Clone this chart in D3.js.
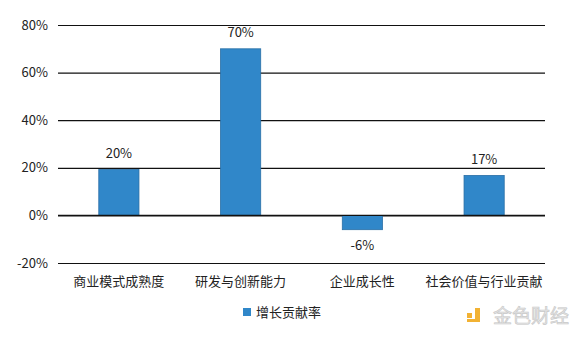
<!DOCTYPE html>
<html>
<head>
<meta charset="utf-8">
<script src="https://cdn.jsdelivr.net/npm/d3@7"></script>
<style>
  body { margin: 0; background: #fff; }
  text { font-family: "Noto Sans CJK SC", "Noto Sans", sans-serif; }
</style>
</head>
<body>
<div id="chart"></div>
<script>
var categories = ["商业模式成熟度", "研发与创新能力", "企业成长性", "社会价值与行业贡献"];
var values = [19.3, 70, -6, 16.8];
var labels = ["20%", "70%", "-6%", "17%"];
var yTicks = [-20, 0, 20, 40, 60, 80];
var seriesName = "增长贡献率";

var W = 580, H = 337;
var margin = {top: 25, right: 35, bottom: 74, left: 58},
    width = W - margin.left - margin.right,
    height = H - margin.top - margin.bottom;

var svg = d3.select("#chart")
  .append("svg")
    .attr("width", W)
    .attr("height", H)
  .append("g")
    .attr("transform", "translate(" + margin.left + "," + margin.top + ")");

var x = d3.scaleBand()
  .domain(categories)
  .range([0, width])
  .paddingInner(0.67)
  .paddingOuter(0.335);

var y = d3.scaleLinear()
  .domain([-20, 80])
  .range([height, 0]);

// gridlines
svg.append("g")
  .call(d3.axisLeft(y).tickValues(yTicks).tickSize(-width).tickFormat(function (d) { return d + "%"; }))
  .call(function (g) {
    g.select(".domain").remove();
    g.selectAll(".tick line").attr("stroke", "#111").attr("stroke-width", 1.2);
    g.selectAll(".tick text")
      .attr("x", -10)
      .attr("fill", "#222")
      .style("font-size", "13px");
  });

// bars
svg.append("g")
  .selectAll("rect")
  .data(values)
  .enter()
  .append("rect")
    .attr("x", function (d, i) { return x(categories[i]); })
    .attr("y", function (d) { return y(Math.max(0, d)); })
    .attr("width", x.bandwidth())
    .attr("height", function (d) { return Math.abs(y(d) - y(0)); })
    .attr("fill", "#3087c9")
    .attr("stroke", "#2a6fa6")
    .attr("stroke-width", 0.8);

// zero line on top
svg.append("line")
  .attr("x1", 0).attr("x2", width)
  .attr("y1", y(0)).attr("y2", y(0))
  .attr("stroke", "#111").attr("stroke-width", 1.2);

// data labels
svg.append("g")
  .selectAll("text")
  .data(values)
  .enter()
  .append("text")
    .attr("x", function (d, i) { return x(categories[i]) + x.bandwidth() / 2; })
    .attr("y", function (d) { return d >= 0 ? y(d) - 16 : y(d) + 16; })
    .attr("dy", "0.35em")
    .attr("text-anchor", "middle")
    .attr("fill", "#222")
    .style("font-size", "13px")
    .text(function (d, i) { return labels[i]; });

// category labels
svg.append("g")
  .selectAll("text")
  .data(categories)
  .enter()
  .append("text")
    .attr("x", function (d) { return x(d) + x.bandwidth() / 2; })
    .attr("y", height + 18)
    .attr("dy", "0.35em")
    .attr("text-anchor", "middle")
    .attr("fill", "#222")
    .style("font-size", "13px")
    .text(function (d) { return d; });

// legend
var legend = svg.append("g")
  .attr("transform", "translate(" + (243 - margin.left) + "," + (308 - margin.top) + ")");
legend.append("rect")
  .attr("width", 8).attr("height", 8)
  .attr("fill", "#3087c9");
legend.append("text")
  .attr("x", 13).attr("y", 4)
  .attr("dy", "0.35em")
  .attr("fill", "#222")
  .style("font-size", "13px")
  .text(seriesName);

// watermark
var wm = d3.select("svg").append("g")
  .attr("transform", "translate(467,306)");
wm.append("rect").attr("x", 0).attr("y", 7).attr("width", 5).attr("height", 5).attr("fill", "#f2b233");
wm.append("path")
  .attr("d", "M8,2 h5 v14 h-13 v-3 h8 z")
  .attr("fill", "#f2b233");
wm.append("text")
  .attr("x", 26).attr("y", 10)
  .attr("dy", "0.35em")
  .attr("fill", "#e4e4e4")
  .attr("stroke", "#c8c8c8")
  .attr("stroke-width", 0.6)
  .style("font-size", "19px")
  .text("金色财经");
</script>
</body>
</html>
